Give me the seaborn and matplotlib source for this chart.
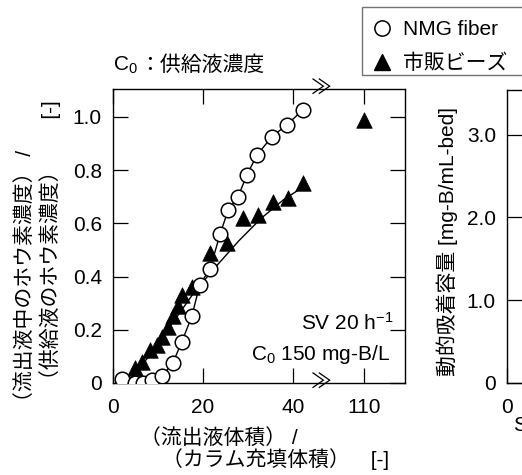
import numpy as np
import pandas as pd
import seaborn as sns
import matplotlib.pyplot as plt
from matplotlib.lines import Line2D
from matplotlib.patches import Rectangle

# ------------------------------------------------------------------
# data
# ------------------------------------------------------------------
# NMG fiber (open circles)
fiber_bv = [1.9, 4.9, 6.7, 8.6, 10.9, 13.3, 15.3, 17.5, 19.3, 21.6,
            23.8, 25.6, 27.8, 29.7, 32.0, 35.3, 38.6, 42.2]
fiber_ratio = [0.015, 0.0, 0.0, 0.01, 0.026, 0.075, 0.155, 0.25, 0.37, 0.43,
               0.56, 0.65, 0.70, 0.78, 0.857, 0.925, 0.97, 1.026]

# commercial beads (filled triangles)
beads_bv = [4.9, 6.4, 8.2, 9.7, 10.9, 12.2, 13.4, 14.5, 15.3, 17.5,
            21.6, 25.3, 28.9, 32.2, 35.6, 38.9, 42.2, 110]
beads_ratio = [0.057, 0.08, 0.124, 0.143, 0.174, 0.21, 0.25, 0.29, 0.33, 0.36,
               0.49, 0.525, 0.62, 0.63, 0.68, 0.695, 0.75, 0.99]

# fitted curve for the beads
beads_fit_bv = [3, 8, 13, 18, 23, 28, 33, 38, 43]
beads_fit_ratio = [0, 0.10, 0.22, 0.34, 0.44, 0.535, 0.62, 0.69, 0.745]

x_ticks = [0, 20, 40, 110]
x_ticklabels = ['0', '20', '40', '110']
y_ticks = [0, 0.2, 0.4, 0.6, 0.8, 1.0]
y_ticklabels = ['0', '0.2', '0.4', '0.6', '0.8', '1.0']
y2_ticks = [0, 1, 2, 3]
y2_ticklabels = ['0', '1.0', '2.0', '3.0']

fiber = pd.DataFrame({'bv': fiber_bv, 'ratio': fiber_ratio})
beads = pd.DataFrame({'bv': beads_bv, 'ratio': beads_ratio})
beads_fit = pd.DataFrame({'bv': beads_fit_bv, 'ratio': beads_fit_ratio})

# ------------------------------------------------------------------
# style
# ------------------------------------------------------------------
sns.set_style("ticks")
plt.rcParams['font.family'] = ['Liberation Sans', 'Noto Sans CJK JP', 'DejaVu Sans']
plt.rcParams['mathtext.fontset'] = 'custom'
plt.rcParams['mathtext.rm'] = 'Liberation Sans'
plt.rcParams['mathtext.default'] = 'regular'
for key in ['text.color', 'axes.labelcolor', 'xtick.color', 'ytick.color', 'axes.edgecolor']:
    plt.rcParams[key] = 'black'
plt.rcParams['axes.linewidth'] = 1.0

FS = 15
W, H = 522, 475


# broken x axis: 0-50 linear, then jump so that 110 sits right after the break
def fwd(x):
    x = np.asarray(x, dtype=float)
    return np.where(x <= 50, x, x - 54.2)


def inv(x):
    x = np.asarray(x, dtype=float)
    return np.where(x <= 50, x, x + 54.2)


fig = plt.figure(figsize=(W / 100, H / 100), dpi=100)
ax = fig.add_axes([113 / W, 92 / H, 292 / W, 294 / H])
ax2 = fig.add_axes([507 / W, 92 / H, 0.3, 293 / H])

ax.set_xscale('function', functions=(fwd, inv))

# lines first, then markers (circles on top)
sns.lineplot(data=beads_fit, x='bv', y='ratio', color='black', lw=1.0, ax=ax)
sns.lineplot(data=fiber, x='bv', y='ratio', color='black', lw=1.0, ax=ax)
sns.scatterplot(data=beads, x='bv', y='ratio', marker='^', s=125, color='black',
                edgecolor='black', linewidth=0.5, zorder=3, ax=ax)
sns.scatterplot(data=fiber, x='bv', y='ratio', marker='o', s=110, color='white',
                edgecolor='black', linewidth=1.1, zorder=4, ax=ax)

ax.set_xlim(0, 119.1)
ax.set_ylim(0, 1.105)
ax.set_xticks(x_ticks)
ax.set_xticklabels(x_ticklabels)
ax.set_yticks(y_ticks)
ax.set_yticklabels(y_ticklabels)
ax.minorticks_off()
ax.tick_params(direction='in', length=11, width=0.9, top=True, right=True,
               labelsize=FS, pad=8)
ax.tick_params(axis='x', pad=11)
ax.set_xlabel('')
ax.set_ylabel('')

# axis titles, one text per line
fig.text(140 / W, 1 - 438 / H, '（流出液体積） /', fontsize=FS,
         ha='left', va='center')
fig.text(162 / W, 1 - 459 / H, '（カラム充填体積）\u3000[-]', fontsize=FS,
         ha='left', va='center')
fig.text(25 / W, 1 - 412 / H, '（流出液中のホウ素濃度） /', fontsize=FS,
         rotation=90, rotation_mode='anchor', ha='left', va='center')
fig.text(50 / W, 1 - 390 / H, '（供給液のホウ素濃度）\u3000\u3000[-]', fontsize=FS,
         rotation=90, rotation_mode='anchor', ha='left', va='center')

# break marks on the x axis
for yy in [0, 1]:
    ax.text(46.4, yy, '≫', transform=ax.get_xaxis_transform(), ha='center',
            va='center', fontsize=FS, clip_on=False)

# panel note
fig.text(113 / W, 1 - 71 / H, 'C$_0$', fontsize=FS, ha='left', va='baseline')
fig.text(139 / W, 1 - 71 / H, '：供給液濃度', fontsize=FS, ha='left', va='baseline')

ax.text(0.959, 0.180, 'SV 20 h$^{-1}$', transform=ax.transAxes, ha='right',
        va='baseline', fontsize=FS)
ax.text(0.949, 0.078, 'C$_0$ 150 mg-B/L', transform=ax.transAxes, ha='right',
        va='baseline', fontsize=FS)

# second panel (mostly cut off on the right)
ax2.set_xlim(0, 10)
ax2.set_ylim(0, 3.54)
ax2.set_xticks([0])
ax2.set_xticklabels(['0'])
ax2.set_yticks(y2_ticks)
ax2.set_yticklabels(y2_ticklabels)
ax2.tick_params(direction='in', length=11, width=0.9, labelsize=FS, pad=8)
ax2.tick_params(axis='x', pad=11)
ax2.set_ylabel('')
fig.text(447 / W, 1 - 242 / H, '動的吸着容量 [mg-B/mL-bed]', fontsize=FS,
         rotation=90, rotation_mode='anchor', ha='center', va='center')
fig.text(513 / W, 1 - 432 / H, 'SV [h$^{-1}$]', fontsize=FS, ha='left',
         va='baseline')

# legend: frame drawn separately so it runs off the right edge like the source
handles = [
    Line2D([], [], marker='o', linestyle='none', markersize=11,
           markerfacecolor='white', markeredgecolor='black', markeredgewidth=1.1),
    Line2D([], [], marker='^', linestyle='none', markersize=11,
           color='black'),
]
fig.legend(handles, ['NMG fiber', '市販ビーズ'], loc='upper left',
           bbox_to_anchor=(362 / W, 1 - 10.5 / H), fontsize=FS,
           frameon=False, borderpad=0.45, handlelength=1.0, handletextpad=0.5,
           labelspacing=0.72, borderaxespad=0)
fig.add_artist(Rectangle((362 / W, 1 - 75 / H), 0.4, 68 / H,
                         transform=fig.transFigure, fill=False,
                         edgecolor='0.45', lw=1.0))

fig.savefig('out.png', dpi=100)
